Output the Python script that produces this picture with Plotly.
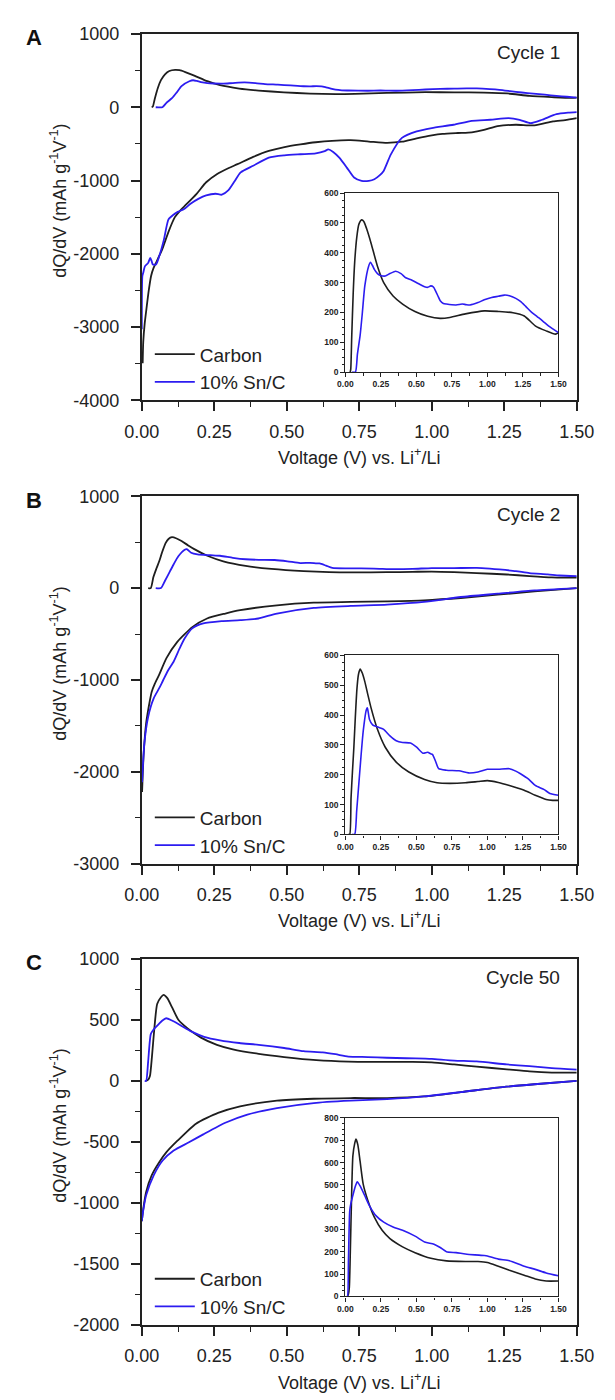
import plotly.graph_objects as go

# ---------------- DATA ----------------
# Panel A (Cycle 1)
A_carbon_chg_V = [0.034, 0.038, 0.045, 0.055, 0.066, 0.08, 0.095, 0.115, 0.13, 0.15, 0.181, 0.226, 0.27, 0.336, 0.403, 0.49, 0.58, 0.668, 0.735, 0.845, 0.978, 1.077, 1.18, 1.26, 1.337, 1.414, 1.48, 1.5]
A_carbon_chg_Q = [0, 10, 120, 260, 370, 450, 495, 510, 505, 480, 432, 355, 300, 255, 228, 203, 187, 180, 183, 195, 205, 203, 199, 188, 155, 138, 127, 132]
A_sn_chg_V = [0.048, 0.071, 0.085, 0.104, 0.12, 0.137, 0.164, 0.177, 0.19, 0.204, 0.226, 0.248, 0.281, 0.314, 0.354, 0.392, 0.425, 0.469, 0.513, 0.558, 0.58, 0.602, 0.62, 0.635, 0.652, 0.668, 0.69, 0.712, 0.779, 0.823, 0.85, 0.878, 0.934, 0.978, 1.03, 1.077, 1.12, 1.155, 1.2, 1.233, 1.27, 1.31, 1.35, 1.39, 1.43, 1.466, 1.5]
A_sn_chg_Q = [0, 0, 60, 123, 200, 289, 355, 368, 358, 344, 330, 324, 322, 330, 338, 330, 316, 308, 297, 286, 284, 289, 285, 272, 255, 239, 230, 228, 225, 228, 226, 225, 233, 242, 250, 254, 258, 256, 247, 237, 220, 201, 186, 171, 155, 143, 132]
A_carbon_dis_V = [0.003, 0.005, 0.01, 0.016, 0.024, 0.032, 0.04, 0.049, 0.06, 0.07, 0.092, 0.114, 0.13, 0.146, 0.189, 0.222, 0.26, 0.3, 0.33, 0.384, 0.438, 0.492, 0.547, 0.6, 0.656, 0.72, 0.783, 0.846, 0.897, 0.948, 1.0, 1.037, 1.09, 1.138, 1.18, 1.227, 1.29, 1.354, 1.418, 1.46, 1.5]
A_carbon_dis_Q = [-3493, -3200, -2950, -2752, -2500, -2303, -2200, -2124, -2030, -1944, -1700, -1500, -1420, -1355, -1181, -1024, -910, -830, -777, -678, -597, -543, -507, -478, -458, -450, -468, -486, -470, -425, -385, -365, -352, -342, -310, -258, -239, -248, -194, -175, -149]
A_sn_dis_V = [0.0, 0.002, 0.005, 0.011, 0.022, 0.029, 0.034, 0.038, 0.049, 0.06, 0.076, 0.092, 0.108, 0.124, 0.146, 0.168, 0.195, 0.222, 0.254, 0.276, 0.298, 0.32, 0.341, 0.384, 0.438, 0.492, 0.547, 0.6, 0.631, 0.643, 0.66, 0.681, 0.707, 0.732, 0.758, 0.783, 0.802, 0.82, 0.834, 0.859, 0.897, 0.948, 1.0, 1.075, 1.138, 1.202, 1.265, 1.303, 1.341, 1.38, 1.43, 1.47, 1.5]
A_sn_dis_Q = [-3030, -2303, -2258, -2168, -2124, -2056, -2100, -2146, -2146, -2034, -1810, -1531, -1470, -1428, -1390, -1316, -1250, -1203, -1181, -1194, -1136, -1010, -889, -799, -687, -656, -642, -630, -599, -576, -610, -689, -824, -959, -1004, -1004, -982, -930, -869, -644, -419, -329, -284, -239, -185, -171, -149, -171, -216, -171, -95, -75, -68]

# Panel B (Cycle 2)
B_carbon_chg_V = [0.022, 0.031, 0.04, 0.05, 0.06, 0.07, 0.082, 0.092, 0.104, 0.12, 0.137, 0.16, 0.181, 0.226, 0.281, 0.358, 0.447, 0.558, 0.646, 0.735, 0.845, 0.934, 1.0, 1.077, 1.155, 1.259, 1.337, 1.414, 1.46, 1.5]
B_carbon_chg_Q = [0, 0, 120, 210, 292, 390, 490, 535, 554, 540, 512, 465, 424, 352, 292, 242, 209, 184, 173, 171, 173, 177, 180, 174, 164, 148, 131, 117, 114, 114]
B_sn_chg_V = [0.048, 0.066, 0.08, 0.097, 0.11, 0.126, 0.148, 0.155, 0.17, 0.192, 0.237, 0.27, 0.314, 0.358, 0.403, 0.458, 0.502, 0.546, 0.58, 0.6, 0.613, 0.635, 0.657, 0.712, 0.8, 0.867, 0.934, 1.0, 1.077, 1.155, 1.2, 1.233, 1.29, 1.337, 1.4, 1.44, 1.5]
B_sn_chg_Q = [0, 0, 80, 182, 260, 347, 418, 424, 385, 367, 358, 352, 330, 314, 308, 306, 292, 272, 275, 270, 268, 245, 220, 215, 213, 206, 209, 218, 218, 220, 212, 203, 185, 164, 150, 137, 131]
B_carbon_dis_V = [0.001, 0.006, 0.015, 0.028, 0.034, 0.045, 0.06, 0.085, 0.123, 0.174, 0.225, 0.288, 0.339, 0.466, 0.593, 0.72, 0.846, 0.973, 1.1, 1.227, 1.354, 1.5]
B_carbon_dis_Q = [-2221, -1829, -1471, -1221, -1130, -1040, -942, -763, -583, -425, -331, -277, -241, -187, -158, -151, -144, -133, -108, -72, -36, 0]
B_sn_dis_V = [0.001, 0.009, 0.022, 0.041, 0.06, 0.072, 0.09, 0.11, 0.13, 0.148, 0.174, 0.212, 0.275, 0.339, 0.402, 0.466, 0.593, 0.72, 0.846, 0.973, 1.1, 1.227, 1.354, 1.5]
B_sn_dis_Q = [-2114, -1686, -1400, -1200, -1090, -1014, -900, -799, -660, -547, -439, -385, -360, -349, -331, -277, -216, -194, -180, -151, -97, -61, -25, 0]

# Panel C (Cycle 50)
C_carbon_chg_V = [0.015, 0.022, 0.028, 0.035, 0.044, 0.053, 0.066, 0.075, 0.088, 0.104, 0.126, 0.159, 0.204, 0.259, 0.314, 0.403, 0.491, 0.602, 0.712, 0.845, 0.934, 1.0, 1.077, 1.155, 1.259, 1.337, 1.414, 1.5]
C_carbon_chg_Q = [0, 10, 40, 200, 450, 630, 686, 705, 679, 605, 502, 429, 355, 296, 259, 222, 196, 171, 159, 156, 156, 152, 135, 117, 95, 78, 69, 69]
C_sn_chg_V = [0.01, 0.015, 0.022, 0.031, 0.04, 0.049, 0.06, 0.071, 0.084, 0.104, 0.137, 0.17, 0.215, 0.27, 0.336, 0.403, 0.491, 0.558, 0.624, 0.668, 0.712, 0.779, 0.845, 0.912, 0.978, 1.0, 1.077, 1.155, 1.259, 1.337, 1.414, 1.5]
C_sn_chg_Q = [0, 0, 163, 384, 420, 443, 470, 495, 514, 495, 451, 406, 362, 333, 311, 296, 270, 244, 234, 219, 200, 196, 190, 186, 183, 181, 167, 160, 135, 121, 105, 92]
C_carbon_dis_V = [0.0, 0.005, 0.015, 0.034, 0.06, 0.085, 0.123, 0.187, 0.263, 0.339, 0.466, 0.593, 0.72, 0.846, 0.973, 1.1, 1.227, 1.354, 1.5]
C_carbon_dis_Q = [-1150, -1050, -910, -774, -666, -584, -490, -350, -262, -208, -162, -146, -140, -140, -127, -92, -54, -27, 0]
C_sn_dis_V = [0.0, 0.005, 0.015, 0.041, 0.072, 0.11, 0.161, 0.212, 0.288, 0.364, 0.466, 0.593, 0.72, 0.846, 0.973, 1.1, 1.227, 1.354, 1.5]
C_sn_dis_Q = [-1150, -1060, -938, -774, -652, -571, -505, -438, -343, -276, -222, -181, -162, -149, -127, -92, -54, -27, 0]

series_names = ["Carbon", "10% Sn/C"]
panel_letters = ["A", "B", "C"]
cycle_labels = ["Cycle 1", "Cycle 2", "Cycle 50"]
main_y_ranges = [[-4000, 1000], [-3000, 1000], [-2000, 1000]]
A_ytick_vals = [-4000, -3000, -2000, -1000, 0, 1000]
A_ytick_text = ["-4000", "-3000", "-2000", "-1000", "0", "1000"]
B_ytick_vals = [-3000, -2000, -1000, 0, 1000]
B_ytick_text = ["-3000", "-2000", "-1000", "0", "1000"]
C_ytick_vals = [-2000, -1500, -1000, -500, 0, 500, 1000]
C_ytick_text = ["-2000", "-1500", "-1000", "-500", "0", "500", "1000"]
main_y_minor = [500, 500, 250]
inset_y_ranges = [[0, 600], [0, 600], [0, 800]]
x_title = "Voltage (V) vs. Li<sup>+</sup>/Li"
y_title = "dQ/dV (mAh g<sup>-1</sup>V<sup>-1</sup>)"

panels_data = [
    (A_carbon_chg_V, A_carbon_chg_Q, A_carbon_dis_V, A_carbon_dis_Q, A_sn_chg_V, A_sn_chg_Q, A_sn_dis_V, A_sn_dis_Q),
    (B_carbon_chg_V, B_carbon_chg_Q, B_carbon_dis_V, B_carbon_dis_Q, B_sn_chg_V, B_sn_chg_Q, B_sn_dis_V, B_sn_dis_Q),
    (C_carbon_chg_V, C_carbon_chg_Q, C_carbon_dis_V, C_carbon_dis_Q, C_sn_chg_V, C_sn_chg_Q, C_sn_dis_V, C_sn_dis_Q),
]
y_ticks = [(A_ytick_vals, A_ytick_text), (B_ytick_vals, B_ytick_text), (C_ytick_vals, C_ytick_text)]

# ---------------- STYLE / LAYOUT ----------------
W, H = 615, 1400
FONT = "Liberation Sans, Arial, sans-serif"
BLACK = "#1e1e1e"
BLUE = "#2c1cf0"
AX = "#222222"
TXT = "#222222"
COLORS = [BLACK, BLUE]

def px_x(p):
    return p / W

def px_y(p):
    return 1 - p / H

main_x_px = (131.5, 593.5)
main_y_px = [(24.3, 396), (493.3, 866), (962.7, 1334)]
inset_x_px = (347.7, 574)
inset_y_px = [(185.7, 367.3), (654.7, 836.3), (1124, 1305)]

fig = go.Figure()
layout = dict(
    width=W, height=H, margin=dict(l=0, r=0, t=0, b=0),
    paper_bgcolor="white", plot_bgcolor="white",
    font=dict(family=FONT, size=18, color=TXT),
    annotations=[],
)

for i in range(3):
    cV, cQ, cdV, cdQ, sV, sQ, sdV, sdQ = panels_data[i]
    mx, my = f"x{'' if i == 0 else i + 1}", f"y{'' if i == 0 else i + 1}"
    ix, iy = f"x{i + 4}", f"y{i + 4}"
    leg = "legend" if i == 0 else f"legend{i + 1}"
    curves = [(cV, cQ, cdV, cdQ), (sV, sQ, sdV, sdQ)]
    for k, (v, q, dv, dq) in enumerate(curves):
        fig.add_trace(go.Scatter(x=dv, y=dq, xaxis=mx, yaxis=my, mode="lines",
                                 line=dict(color=COLORS[k], width=1.8, shape="spline", smoothing=0.6),
                                 showlegend=False, legendgroup=f"{i}{k}"))
        fig.add_trace(go.Scatter(x=v, y=q, xaxis=mx, yaxis=my, mode="lines", name=series_names[k],
                                 line=dict(color=COLORS[k], width=1.8, shape="spline", smoothing=0.6),
                                 showlegend=True, legend=leg, legendgroup=f"{i}{k}"))
        fig.add_trace(go.Scatter(x=v, y=q, xaxis=ix, yaxis=iy, mode="lines",
                                 line=dict(color=COLORS[k], width=1.6, shape="spline", smoothing=0.6),
                                 showlegend=False))

    top, bot = main_y_px[i]
    sfx = "" if i == 0 else str(i + 1)
    tv, tt = y_ticks[i]
    layout["xaxis" + sfx] = dict(
        domain=[px_x(main_x_px[0]), px_x(main_x_px[1])], anchor=my, range=[0, 1.5],
        dtick=0.25, tick0=0, tickformat=".2f", ticks="outside", ticklen=9, tickwidth=1.5,
        tickcolor=AX, showline=True, linecolor=AX, linewidth=1.8, mirror=True,
        showgrid=False, zeroline=False, tickfont=dict(size=18, color=TXT), ticklabelstandoff=5,
        minor=dict(tickmode="linear", tick0=0, dtick=0.125, ticks="outside", ticklen=5, tickwidth=1.3, tickcolor=AX, showgrid=False),
    )
    layout["yaxis" + sfx] = dict(
        domain=[px_y(bot), px_y(top)], anchor=mx, range=main_y_ranges[i],
        tickmode="array", tickvals=tv, ticktext=tt, ticks="outside", ticklen=9, tickwidth=1.5,
        tickcolor=AX, showline=True, linecolor=AX, linewidth=1.8, mirror=True,
        showgrid=False, zeroline=False, tickfont=dict(size=18, color=TXT), ticklabelstandoff=8,
        minor=dict(tickmode="linear", tick0=0, dtick=main_y_minor[i], ticks="outside", ticklen=5, tickwidth=1.3, tickcolor=AX, showgrid=False),
    )
    itop, ibot = inset_y_px[i]
    layout[f"xaxis{i + 4}"] = dict(
        domain=[px_x(inset_x_px[0]), px_x(inset_x_px[1])], anchor=iy, range=[0, 1.5],
        dtick=0.25, tick0=0, tickformat=".2f", ticks="outside", ticklen=4, tickwidth=1,
        tickcolor=AX, showline=True, linecolor=AX, linewidth=1.3, mirror=True,
        showgrid=False, zeroline=False, tickfont=dict(size=8.5, color=TXT, weight="bold"),
        minor=dict(tickmode="linear", tick0=0, dtick=0.125, ticks="outside", ticklen=2.5, tickwidth=1, tickcolor=AX, showgrid=False),
    )
    layout[f"yaxis{i + 4}"] = dict(
        domain=[px_y(ibot), px_y(itop)], anchor=ix, range=inset_y_ranges[i],
        dtick=100, tick0=0, ticks="outside", ticklen=4, tickwidth=1,
        tickcolor=AX, showline=True, linecolor=AX, linewidth=1.3, mirror=True,
        showgrid=False, zeroline=False, tickfont=dict(size=8.5, color=TXT, weight="bold"),
        minor=dict(tickmode="linear", tick0=0, dtick=25, ticks="outside", ticklen=2.5, tickwidth=1, tickcolor=AX, showgrid=False),
    )
    layout[leg] = dict(
        x=px_x(140), y=px_y(bot - 66), xanchor="left", yanchor="top",
        bgcolor="rgba(0,0,0,0)", borderwidth=0, font=dict(size=19, color=TXT),
        tracegroupgap=0, itemwidth=40,
    )
    ann = layout["annotations"]
    ann.append(dict(text=f"<b>{panel_letters[i]}</b>", x=px_x(17), y=px_y(top + 4), xref="paper", yref="paper",
                    showarrow=False, font=dict(size=22, color="#111"), xanchor="center", yanchor="middle"))
    ann.append(dict(text=cycle_labels[i], x=px_x(578), y=px_y(top + 19), xref="paper", yref="paper",
                    showarrow=False, font=dict(size=19, color=TXT), xanchor="right", yanchor="middle"))
    ann.append(dict(text=y_title, x=px_x(43), y=px_y((top + bot) / 2 - 17), xref="paper", yref="paper",
                    showarrow=False, textangle=-90, font=dict(size=18, color=TXT), xanchor="center", yanchor="middle"))
    ann.append(dict(text=x_title, x=px_x(362.5), y=px_y(bot + 57), xref="paper", yref="paper",
                    showarrow=False, font=dict(size=18, color=TXT), xanchor="center", yanchor="middle"))

fig.update_layout(**layout)
fig.write_html("out.html")
